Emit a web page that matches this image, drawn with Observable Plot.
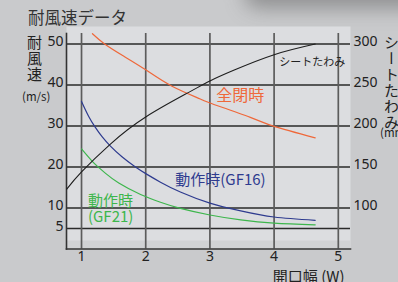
<!DOCTYPE html>
<html><head><meta charset="utf-8">
<script src="https://cdn.jsdelivr.net/npm/d3@7"></script>
<script src="https://cdn.jsdelivr.net/npm/@observablehq/plot@0.6"></script>
<style>
html,body{margin:0;padding:0;background:#c9cacc;}
#wrap{position:relative;width:398px;height:282px;overflow:hidden;background:#c9cacc;font-family:"Noto Sans CJK JP","Noto Sans",sans-serif;color:#222;}
#shadow{position:absolute;left:245px;top:-24px;width:200px;height:32px;background:rgba(70,70,72,0.45);filter:blur(10px);border-radius:12px;}
#chart{position:absolute;left:0;top:0;}
.vt{position:absolute;writing-mode:vertical-rl;font-size:15px;line-height:1;letter-spacing:1px;color:#222;}
#title{position:absolute;left:28px;top:9px;font-size:16.5px;line-height:1;color:#333;}
#lt{left:27px;top:35px;}
#rt{left:384px;top:35px;}
.unit{position:absolute;font-size:11.5px;line-height:1;color:#222;}
#lu{left:22px;top:91px;}
#ru{left:380px;top:127px;}
</style></head>
<body><div id="wrap"><div id="shadow"></div><div id="chart"></div>
<div id="title">耐風速データ</div>
<div class="vt" id="lt">耐風速</div>
<div class="unit" id="lu">(m/s)</div>
<div class="vt" id="rt">シートたわみ</div>
<div class="unit" id="ru">(mm)</div>
</div>
<script>
// ticks
const xTicks = [1, 2, 3, 4, 5];
const windTicks = [5, 10, 20, 30, 40, 50];
const mmTicks = [100, 150, 200, 250, 300];

// 全閉時 (wind speed, m/s)
const closedW = [1.17, 1.36, 1.66, 2.0, 2.41, 2.85, 3.0, 3.63, 4.0, 4.64];
const closedV = [52.5, 50.0, 47.0, 43.7, 39.7, 36.6, 35.6, 32.1, 29.9, 27.1];

// 動作時 (GF16)
const gf16W = [1.0, 1.11, 1.21, 1.32, 1.45, 1.63, 1.84, 2.02, 2.23, 2.54, 3.0, 3.48, 4.0, 4.64];
const gf16V = [36.0, 32.4, 29.8, 27.4, 25.1, 22.5, 20.0, 18.2, 16.3, 13.9, 11.2, 9.3, 7.8, 7.0];

// 動作時 (GF21)
const gf21W = [1.0, 1.16, 1.26, 1.37, 1.58, 1.92, 2.23, 2.54, 3.0, 3.48, 4.0, 4.64];
const gf21V = [24.4, 21.5, 20.0, 18.5, 16.1, 13.3, 11.4, 9.9, 8.3, 7.1, 6.3, 5.9];

// シートたわみ (mm, right axis)
const sheetW = [0.77, 1.0, 1.45, 2.0, 2.67, 3.0, 3.37, 4.0, 4.64];
const sheetMM = [123, 144, 178, 211, 241, 255, 268, 287, 300];

const mmToWind = mm => (mm - 50) / 5;
const windToMM = w => w * 5 + 50;

const zip = (xs, ys) => xs.map((x, i) => ({x, y: ys[i]}));
const closed = zip(closedW, closedV);
const gf16 = zip(gf16W, gf16V);
const gf21 = zip(gf21W, gf21V);
const sheet = zip(sheetW, sheetMM.map(mmToWind));

const C = {closed: "#ef683a", gf16: "#2e3b8f", gf21: "#3db64c", sheet: "#1e1e1e"};
const numFont = "Noto Sans, sans-serif";

const chart = Plot.plot({
  width: 398, height: 282,
  marginLeft: 66, marginRight: 48, marginTop: 26, marginBottom: 33.5,
  style: {background: "transparent", fontFamily: "'Noto Sans CJK JP', 'Noto Sans', sans-serif", color: "#222"},
  x: {domain: [0.766, 5.19], label: null},
  y: {domain: [0, 54.27], label: null},
  marks: [
    Plot.frame({fill: "#dcdde0", stroke: null}),
    Plot.frame({fill: "#d1d2d4", stroke: null, insetTop: 214}),
    Plot.ruleY(windTicks, {stroke: "#2a2a2a", strokeWidth: 1.3}),
    Plot.ruleX(xTicks, {stroke: "#5c5c5c", strokeWidth: 1.7, insetTop: 7}),
    Plot.frame({anchor: "left", stroke: "#333", strokeWidth: 1.6, insetTop: 7}),
    Plot.frame({anchor: "bottom", stroke: "#333", strokeWidth: 1.6}),
    Plot.line(closed, {x: "x", y: "y", stroke: C.closed, strokeWidth: 1.2, curve: "natural"}),
    Plot.line(gf16, {x: "x", y: "y", stroke: C.gf16, strokeWidth: 1.2, curve: "natural"}),
    Plot.line(gf21, {x: "x", y: "y", stroke: C.gf21, strokeWidth: 1.2, curve: "natural"}),
    Plot.line(sheet, {x: "x", y: "y", stroke: C.sheet, strokeWidth: 1.1, curve: "natural"}),
    Plot.text(["全閉時"], {x: 3.1, y: 37.4, text: d => d, fill: C.closed, fontSize: 16, textAnchor: "start"}),
    Plot.text(["シートたわみ"], {x: 4.08, y: 45.6, text: d => d, fill: "#222", fontSize: 11, textAnchor: "start"}),
    Plot.text(["動作時(GF16)"], {x: 2.46, y: 16.9, text: d => d, fill: C.gf16, fontSize: 15, textAnchor: "start"}),
    Plot.text(["動作時\n(GF21)"], {x: 1.1, y: 9.9, text: d => d, fill: C.gf21, fontSize: 15, lineHeight: 1.07, textAnchor: "start"}),
    Plot.axisY({anchor: "left", ticks: windTicks, tickFormat: d => String(d), tickSize: 0, tickPadding: 3, fontSize: 14, dy: -2, fontFamily: numFont, label: null}),
    Plot.axisY({anchor: "right", ticks: mmTicks.map(mmToWind), tickFormat: d => String(windToMM(d)), tickSize: 0, tickPadding: 3, fontSize: 14, dy: -2, fontFamily: numFont, label: null}),
    Plot.axisX({ticks: xTicks, tickFormat: d => String(d), tickSize: 0, tickPadding: 2, fontSize: 14, fontFamily: numFont, label: null}),
    Plot.text(["開口幅 (W)"], {frameAnchor: "bottom-right", text: d => d, dx: -6, dy: 28, textAnchor: "end", lineAnchor: "middle", fontSize: 15, fill: "#222"})
  ]
});
document.getElementById("chart").append(chart);
</script>
</body></html>
